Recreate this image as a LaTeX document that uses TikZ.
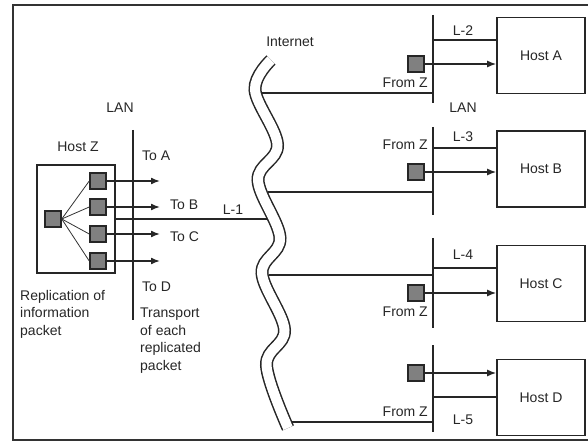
\documentclass[tikz,border=0pt]{standalone}
\usepackage{fontspec}
\setmainfont{Liberation Sans}
\usetikzlibrary{arrows.meta}
\begin{document}
\begin{tikzpicture}[x=1pt,y=-1pt,
  every node/.style={font=\fontsize{14}{17.5}\selectfont, inner sep=0pt, text=black!85},
  ln/.style={line width=1.5pt, black!85},
  thinln/.style={line width=0.8pt, black!80},
  arr/.style={ln, -{Latex[length=9pt,width=7pt]}},
  pkt/.style={draw=black!85, line width=1.5pt, fill=black!50, minimum size=16pt},
  host/.style={draw=black!85, line width=1.6pt, minimum width=88pt, minimum height=76pt},
  lbl/.style={},
  lblL/.style={align=left, anchor=north west},
]
\useasboundingbox (0,0) rectangle (588,443);
% frame
\draw[line width=2pt, black!80] (13,5) rectangle (590,440);

% ---------------- Host Z side ----------------
\node[draw=black!85, line width=1.5pt, minimum width=78pt, minimum height=108pt] (hz) at (76,219) {};
\node[pkt] (z0) at (53,219) {};
\node[pkt] (z1) at (98,181) {};
\node[pkt] (z2) at (98,207) {};
\node[pkt] (z3) at (98,234) {};
\node[pkt] (z4) at (98,261) {};
\foreach \i in {1,...,4} \draw[thinln] (z0.east) -- (z\i.west);

\coordinate (lanT) at (133,130);
\coordinate (lanB) at (133,320);
\draw[ln] (lanT) -- (lanB);

\coordinate (a1) at (160,181);
\coordinate (a2) at (160,207);
\coordinate (a3) at (160,234);
\coordinate (a4) at (160,261);
\foreach \i in {1,...,4} \draw[arr] (z\i.east) -- (a\i);

\node (lanlbl) at (120,108) {LAN};
\node (hzlbl) at (78,147) {Host Z};
\node[anchor=west] (toA) at (142,156) {To A};
\node[anchor=west] (toB) at (170,205) {To B};
\node[anchor=west] (toC) at (170,237) {To C};
\node[anchor=west] (toD) at (142,287) {To D};
\node[lblL] (transp) at (140,308) {Transport\\of each\\replicated\\packet};
\node[lblL] (repl) at (20,290) {Replication of\\information\\packet};

% ---------------- Internet ----------------
\node (inet) at (290,42) {Internet};
\node (l1) at (233,210) {L-1};

\coordinate (w0) at (267,219);
\coordinate (w1) at (262,93);
\coordinate (w2) at (268,192);
\coordinate (w3) at (269,275);
\coordinate (w4) at (292,422);

\draw[ln] (hz.east) -- (w0);

% ---------------- right side ----------------
\node[host] (hA) at (541,55.5) {Host A};
\node[host] (hB) at (541,169) {Host B};
\node[host] (hC) at (541,283.5) {Host C};
\node[host] (hD) at (541,397.5) {Host D};

\coordinate (r1t) at (433,15);  \coordinate (r1b) at (433,103);
\coordinate (r2t) at (433,127); \coordinate (r2b) at (433,215);
\coordinate (r3t) at (433,238); \coordinate (r3b) at (433,328);
\coordinate (r4t) at (433,345); \coordinate (r4b) at (433,432);
\foreach \i in {1,...,4} \draw[ln] (r\i t) -- (r\i b);

% links from internet to LANs
\draw[ln] (w1) -- (r1t |- w1);
\draw[ln] (w2) -- (r2t |- w2);
\draw[ln] (w3) -- (r3t |- w3);
\draw[ln] (w4) -- (r4t |- w4);

% L links to hosts
\coordinate (c2) at (433,40);
\coordinate (c3) at (433,148);
\coordinate (c4) at (433,268);
\coordinate (c5) at (433,397);
\draw[ln] (c2) -- (hA.west |- c2);
\draw[ln] (c3) -- (hB.west |- c3);
\draw[ln] (c4) -- (hC.west |- c4);
\draw[ln] (c5) -- (hD.west |- c5);

% packets from Z
\node[pkt] (sA) at (416,64) {};
\node[pkt] (sB) at (416,172) {};
\node[pkt] (sC) at (416,293) {};
\node[pkt] (sD) at (416,373) {};
\draw[arr] (sA.east) -- (hA.west |- sA);
\draw[arr] (sB.east) -- (hB.west |- sB);
\draw[arr] (sC.east) -- (hC.west |- sC);
\draw[arr] (sD.east) -- (hD.west |- sD);

\node (L2) at (463,31) {L-2};
\node (lan2) at (463,108) {LAN};
\node (L3) at (463,137) {L-3};
\node (L4) at (463,255) {L-4};
\node (L5) at (463,420) {L-5};

\node[anchor=east] (fz1) at (428,83) {From Z};
\node[anchor=east] (fz2) at (428,145) {From Z};
\node[anchor=east] (fz3) at (428,312) {From Z};
\node[anchor=east] (fz4) at (428,412) {From Z};

% the wavy internet cloud (drawn last)
\draw[line width=1.5pt, draw=black!85, double=white, double distance=10pt]
  plot[smooth, tension=0.6] coordinates {(271,60) (255,90) (277.5,145) (258,180) (280,238) (262,273) (284.5,330) (266.5,365) (288,428)};
\end{tikzpicture}
\end{document}
